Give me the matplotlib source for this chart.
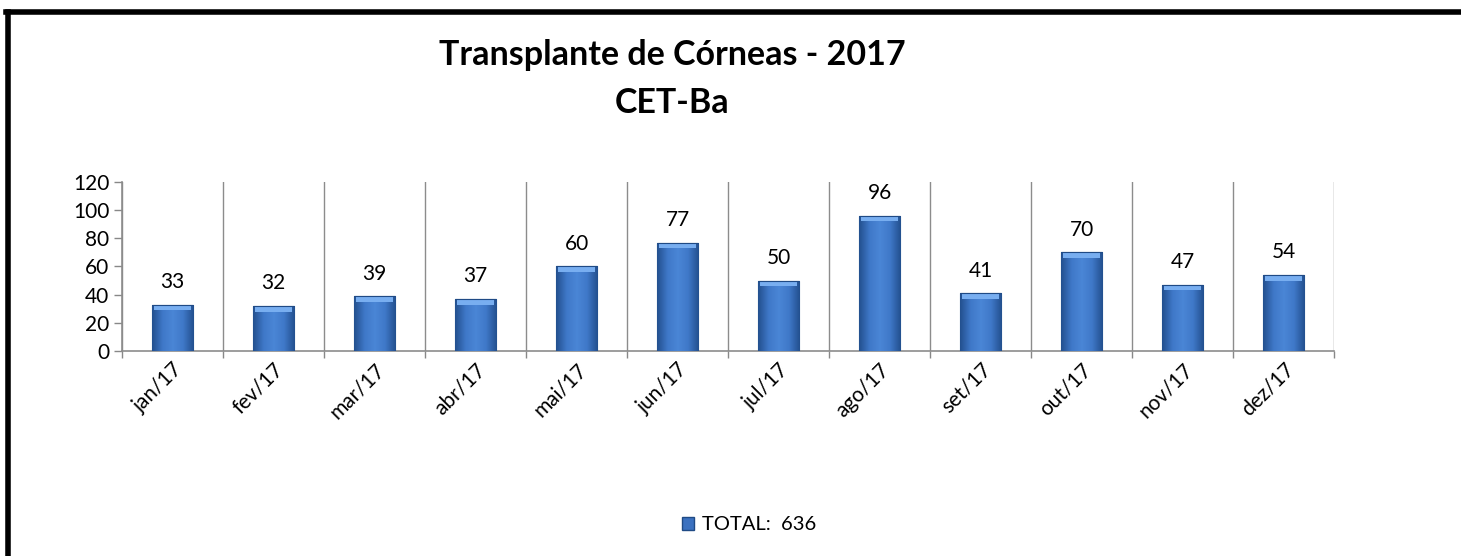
import matplotlib
matplotlib.use("Agg")
import matplotlib.pyplot as plt
import numpy as np
from matplotlib.lines import Line2D
from matplotlib.colors import LinearSegmentedColormap

months = ["jan/17", "fev/17", "mar/17", "abr/17", "mai/17", "jun/17",
          "jul/17", "ago/17", "set/17", "out/17", "nov/17", "dez/17"]
values = [33, 32, 39, 37, 60, 77, 50, 96, 41, 70, 47, 54]
yticks = [0, 20, 40, 60, 80, 100, 120]
title1 = "Transplante de Córneas - 2017"
title2 = "CET-Ba"
legend_label = "TOTAL:  636"

plt.rcParams['font.family'] = ['Lato', 'DejaVu Sans']

fig = plt.figure(figsize=(14.61, 5.56), dpi=100)
ax = fig.add_axes([0.0835, 0.3687, 0.8296, 0.304])

x = np.arange(len(months))
bars = ax.bar(x, values, width=0.41, color="#3b71c0", edgecolor="#1f4a85", linewidth=0.8, zorder=3)

# horizontal gradient + top bevel inside each bar
cmap = LinearSegmentedColormap.from_list("bevel", ["#23508f", "#3f78c8", "#4a86d6", "#3f78c8", "#23508f"])
grad = np.linspace(0, 1, 64).reshape(1, -1)
for b in bars:
    bx, bw, bh = b.get_x(), b.get_width(), b.get_height()
    im = ax.imshow(grad, extent=(bx, bx + bw, 0, bh), aspect="auto", cmap=cmap,
                   zorder=3.5, interpolation="bicubic")
    im.set_clip_path(b)
    top_h = 4.0
    ax.bar(bx + bw / 2, top_h, bottom=bh - top_h, width=bw * 0.9,
           color="#78aef0", linewidth=0, zorder=4)
    ax.bar(bx + bw / 2, 0, bottom=bh, width=bw, fill=False,
           edgecolor="#1f4a85", linewidth=0.8, zorder=5)

for xi, v in zip(x, values):
    ax.annotate(str(v), (xi, v), xytext=(0, 9), textcoords="offset points",
                ha="center", va="bottom", fontsize=15, color="black")

ax.set_xlim(-0.5, len(months) - 0.5)
ax.set_ylim(0, 120)
ax.set_yticks(yticks)
ax.set_yticklabels([str(t) for t in yticks], fontsize=15)

ax.set_xticks(x)
ax.set_xticklabels(months, rotation=45, ha="right", va="top", rotation_mode="anchor", fontsize=15)
ax.tick_params(axis="x", length=0, pad=6)
ax.set_xticks(np.arange(len(months) + 1) - 0.5, minor=True)
ax.tick_params(axis="x", which="minor", length=5, color="#888888", width=1)
ax.tick_params(axis="y", length=6, color="#888888", width=1, pad=3)
ax.grid(axis="x", which="minor", color="#8c8c8c", linewidth=1, zorder=0)

for s in ["top", "right"]:
    ax.spines[s].set_visible(False)
for s in ["left", "bottom"]:
    ax.spines[s].set_color("#8c8c8c")
    ax.spines[s].set_linewidth(1.2)

fig.text(0.46, 0.901, title1, ha="center", va="center", fontsize=24.5, fontweight="bold")
fig.text(0.46, 0.815, title2, ha="center", va="center", fontsize=24.5, fontweight="bold")

handle = plt.Rectangle((0, 0), 1, 1, facecolor="#3b71c0", edgecolor="#1f4a85")
fig.legend([handle], [legend_label], loc="center", bbox_to_anchor=(0.513, 0.056),
           frameon=False, fontsize=14.5, handlelength=0.6, handleheight=0.6, handletextpad=0.4)

# figure border on left and top
fig.add_artist(Line2D([0.0058, 0.0058], [0.0, 0.979], transform=fig.transFigure,
                      color="black", linewidth=4))
fig.add_artist(Line2D([0.0044, 1.0], [0.979, 0.979], transform=fig.transFigure,
                      color="black", linewidth=4))

fig.savefig("out.png", dpi=100)
